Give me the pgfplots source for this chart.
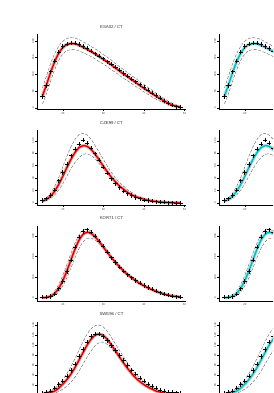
\documentclass[border=0pt]{standalone}
\usepackage{fontspec}
\setmainfont{Liberation Sans}
\usepackage{pgfplots}
\usepackage{pgfplotstable}
\pgfplotsset{compat=1.18}
\definecolor{fitred}{RGB}{225,0,0}
\definecolor{halored}{RGB}{245,165,165}
\definecolor{fitcyan}{RGB}{0,190,190}
\definecolor{halocyan}{RGB}{160,228,228}
\definecolor{bandgray}{RGB}{80,80,80}

\pgfplotstableread{
a obs fit lo hi
15 34 36 12 60
16 67 70 44 96
17 108 106 80 132
18 140 138 114 162
19 166 163 142 184
20 183 180 161 199
21 191 189 171 207
22 194 192 174 210
23 193 191 174 208
24 189 187 170 204
25 183 181 165 197
26 177 175 159 191
27 170 168 153 183
28 162 161 146 176
29 155 153 138 168
30 147 145 131 159
31 138 137 123 151
32 130 128 114 142
33 121 119 106 132
34 112 110 97 123
35 103 101 88 114
36 95 93 81 105
37 86 84 72 96
38 78 76 64 88
39 69 67 56 78
40 61 59 48 70
41 53 51 41 61
42 45 43 33 53
43 37 35 26 44
44 29 28 20 36
45 21 21 14 28
46 14 14 8 20
47 8 9 4 14
48 4 5 1 9
49 3 3 0 6
}\esa

\pgfplotstableread{
a obs fit lo hi
15 4 3 1.7 5
16 7 6 3.9 9
17 12 11 7.3 16
18 21 19 13 27
19 36 30 21 41
20 49 43 31 58
21 62 57 43 75
22 76 70 55 90
23 87 81 65 102
24 95 89 73 110
25 101 92 78 112
26 96 91 79 109
27 88 86 76 102
28 79 78 71 92
29 69 69 63 81
30 58 59 55 70
31 48 50 47 59
32 39 41 39 49
33 31 34 32 40
34 25 27 26 33
35 19 22 21 27
36 15 17 17 21
37 12 13 13 17
38 9 10 10 13
39 7 8 7.7 10
40 5 6 6 8
41 4 4.5 4.6 6
42 3 3.3 3.4 4.5
43 2 2.4 2.5 3.3
44 1.5 1.7 1.8 2.4
45 1 1.2 1.3 1.7
46 0.5 0.8 0.9 1.2
47 0.3 0.5 0.6 0.8
48 0.2 0.3 0.3 0.5
49 0.1 0.2 0.2 0.3
}\cze

\pgfplotstableread{
a obs fit lo hi
15 3 1 0 2
16 4 3 1 6
17 7 8 4 15
18 20 22 12 34
19 45 47 30 66
20 80 84 58 110
21 128 131 98 162
22 184 184 146 216
23 245 236 196 266
24 295 280 240 306
25 322 308 272 328
26 330 318 288 332
27 318 312 289 324
28 300 295 280 306
29 275 272 262 283
30 250 246 240 257
31 222 220 215 231
32 195 195 191 205
33 172 172 168 181
34 150 150 146 159
35 130 130 126 139
36 113 113 109 121
37 98 97 94 105
38 85 83 80 90
39 72 70 67 77
40 61 59 56 65
41 51 49 46 54
42 42 40 37 44
43 34 32 29 36
44 26 25 22 29
45 20 19 16 22
46 14 14 11 17
47 9 10 8 12
48 6 7 5 9
49 4 5 3 6
}\kor

\pgfplotstableread{
a obs fit lo hi
15 3 2 0.5 4
16 5 3 1 6
17 8 5 2 9
18 14 8 4 13
19 21 14 7 21
20 28 22 12 31
21 38 31 18 43
22 49 42 26 57
23 62 55 36 73
24 77 70 48 90
25 91 85 62 107
26 106 100 76 122
27 117 112 89 133
28 122 120 99 139
29 122 122 105 140
30 117 119 106 136
31 109 111 101 127
32 99 100 93 115
33 89 88 83 102
34 79 76 72 89
35 69 64 61 76
36 59 53 50 64
37 50 43 40 52
38 42 34 32 42
39 34 27 25 34
40 28 21 19 27
41 22 16 14 21
42 17 12 10 16
43 14 8 7 12
44 10 6 5 9
45 8 4 3 6
46 6 3 2 5
47 5 2 1.5 4
48 4.5 1.5 1 3
49 4 1 0.6 2
}\swe

\pgfplotsset{
  panel/.style={
    scale only axis, width=149pt, height=75pt,
    anchor=south west,
    xmin=13.64, xmax=50.36,
    axis x line*=bottom, axis y line*=left,
    axis line style={line width=0.5pt, black},
    xtick={20,30,40,50},
    tick align=outside, major tick length=1.6pt,
    every tick/.style={line width=0.4pt, black},
    every tick label/.append style={font=\fontsize{2.8}{3}\selectfont, text=black!75},
    yticklabel style={rotate=90, anchor=south, inner sep=1pt},
    xticklabel style={inner sep=1.2pt},
    /pgf/number format/assume math mode=true,
    title style={font=\fontsize{4.3}{5}\selectfont, text=black!80, at={(0.5,1)}, anchor=center, yshift=1.5pt},
  },
  rightpanel/.style={xtick={20}},
  esapanel/.style={panel, ymin=-4.5, ymax=219, ytick={0,50,100,150,200}},
  czepanel/.style={panel, ymin=-3.5, ymax=117, ytick={0,20,40,60,80,100}},
  korpanel/.style={panel, ymin=-14, ymax=349, ytick={0,100,200,300}},
  swepanel/.style={panel, ymin=-3, ymax=147, ytick={20,40,60,80,100,120,140}, xticklabels={}},
}

\newcommand{\panelplots}[3]{%
  \addplot[bandgray, line width=0.35pt, dash pattern=on 3pt off 1.6pt, smooth] table[x=a,y=hi]{#1};
  \addplot[bandgray, line width=0.35pt, dash pattern=on 3pt off 1.6pt, smooth] table[x=a,y=lo]{#1};
  \addplot[#3, line width=3.2pt, smooth] table[x=a,y=fit]{#1};
  \addplot[#2, line width=1.4pt, smooth] table[x=a,y=fit]{#1};
  \addplot[only marks, mark=+, mark size=2.1pt, black, mark options={line width=0.7pt}] table[x=a,y=obs]{#1};
}

\begin{document}
\begin{tikzpicture}[x=1pt,y=1pt]
\useasboundingbox (0,0) rectangle (273,393);
\clip (0,0) rectangle (273,393);
% row 1
\begin{axis}[esapanel, at={(37pt,283.5pt)}, title={ESA02 / CT}]
\panelplots{\esa}{fitred}{halored}
\end{axis}
\begin{axis}[esapanel, rightpanel, at={(219pt,283.5pt)}]
\panelplots{\esa}{fitcyan}{halocyan}
\end{axis}
% row 2
\begin{axis}[czepanel, at={(37pt,187.8pt)}, title={CZE99 / CT}]
\panelplots{\cze}{fitred}{halored}
\end{axis}
\begin{axis}[czepanel, rightpanel, at={(219pt,187.8pt)}]
\panelplots{\cze}{fitcyan}{halocyan}
\end{axis}
% row 3
\begin{axis}[korpanel, at={(37pt,92.1pt)}, title={KOR71 / CT}]
\panelplots{\kor}{fitred}{halored}
\end{axis}
\begin{axis}[korpanel, rightpanel, at={(219pt,92.1pt)}]
\panelplots{\kor}{fitcyan}{halocyan}
\end{axis}
% row 4
\begin{axis}[swepanel, at={(37pt,-3.6pt)}, title={SWE96 / CT}]
\panelplots{\swe}{fitred}{halored}
\end{axis}
\begin{axis}[swepanel, rightpanel, xticklabels={}, at={(219pt,-3.6pt)}]
\panelplots{\swe}{fitcyan}{halocyan}
\end{axis}
\end{tikzpicture}
\end{document}
